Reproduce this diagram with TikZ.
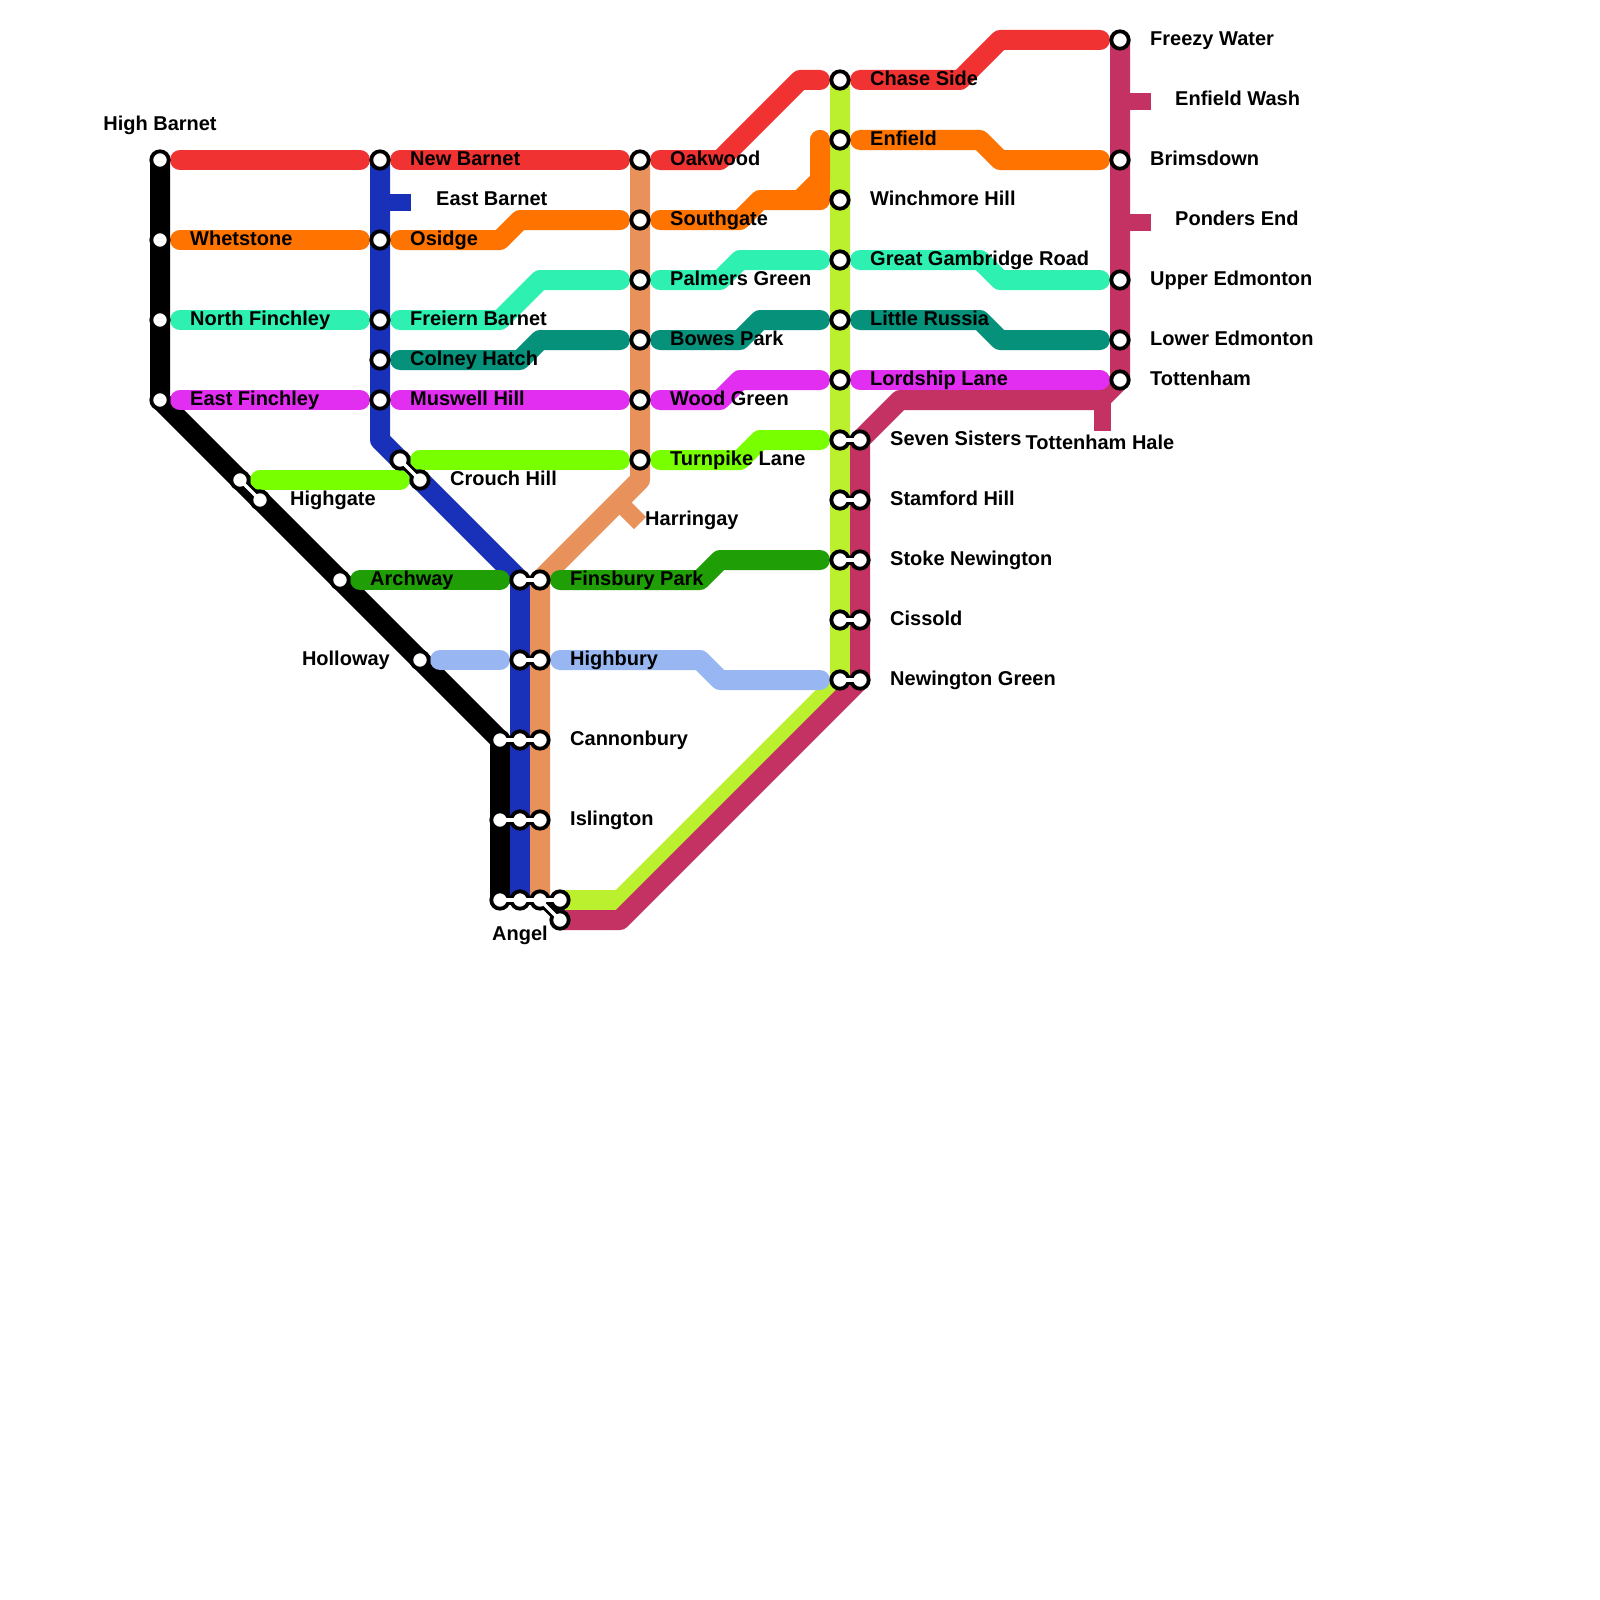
\documentclass[tikz,border=0pt]{standalone}
\usepackage{fontspec}
\setmainfont{Liberation Sans}
\usetikzlibrary{backgrounds}
\definecolor{cRed}{HTML}{F03232}
\definecolor{cOrange}{HTML}{FF7300}
\definecolor{cMint}{HTML}{2EF0B0}
\definecolor{cTeal}{HTML}{05917A}
\definecolor{cMagenta}{HTML}{E22EF0}
\definecolor{cLime}{HTML}{78FF00}
\definecolor{cGreen}{HTML}{1F9E05}
\definecolor{cSky}{HTML}{98B6F2}
\definecolor{cYellow}{HTML}{BBF02E}
\definecolor{cPlum}{HTML}{C43264}
\definecolor{cPeach}{HTML}{E8915A}
\definecolor{cBlue}{HTML}{1930B8}
\tikzset{
  trunk/.style={line width=20pt,line join=round,line cap=butt},
  hline/.style={line width=20pt,line join=round,line cap=round},
  tick/.style={line width=17pt,line cap=butt},
  stn/.style={circle,draw=black,fill=white,line width=3.8pt,minimum size=17.4pt,inner sep=0pt},
  linkb/.style={line width=9pt,draw=black},
  linkw/.style={line width=3.5pt,draw=white},
  lab/.style={font=\fontsize{20}{24}\selectfont\bfseries,text=black,inner sep=0pt,anchor=base west,yshift=-0.8pt},
  labc/.style={lab,anchor=base},
  labe/.style={lab,anchor=base east}
}
\begin{document}
\begin{tikzpicture}[x=1pt,y=-1pt]
\useasboundingbox (0,0) rectangle (1600,1600);
% stations
\foreach \n/\x/\y in {hb/160/160,wh/160/240,nf/160/320,ef/160/400,
  nb/380/160,os/380/240,fb/380/320,ch/380/360,mh/380/400,
  cha/400/460,chb/420/480,hga/240/480,hgb/260/500,ar/340/580,ho/420/660,
  fpa/520/580,fpb/540/580,hia/520/660,hib/540/660,
  caa/500/740,cab/520/740,cac/540/740,isa/500/820,isb/520/820,isc/540/820,
  angA/500/900,angB/520/900,angC/540/900,angD/560/900,angE/560/920,
  oa/640/160,so/640/220,pg/640/280,bp/640/340,wg/640/400,tl/640/460,
  cs/840/80,en/840/140,wi/840/200,gg/840/260,lr/840/320,ll/840/380,
  ssa/840/440,ssb/860/440,sha/840/500,shb/860/500,sna/840/560,snb/860/560,
  cia/840/620,cib/860/620,nga/840/680,ngb/860/680,
  fw/1120/40,br/1120/160,ue/1120/280,le/1120/340,to/1120/380}
  {\node[stn] (\n) at (\x,\y) {};}
% tick ends
\coordinate (ebA) at (380,202); \coordinate (ebB) at (411,202);
\coordinate (ewA) at (1120,102); \coordinate (ewB) at (1151,102);
\coordinate (peA) at (1120,222); \coordinate (peB) at (1151,222);
\coordinate (thA) at (1102,400); \coordinate (thB) at (1102,431);
\coordinate (haA) at (618.5,501.5); \coordinate (haB) at (640,523);
\begin{scope}[on background layer]
\fill[white] (0,0) rectangle (1600,1600);
% trunks
\draw[trunk,black] (hb.center) -- (ef.center) -- (caa.center) -- (angA.center);
\draw[trunk,cBlue] (nb.center) -- (380,440) -- (fpa.center) -- (angB.center);
\draw[trunk,cPeach] (oa.center) -- (640,480) -- (fpb.center) -- (angC.center);
\draw[trunk,cYellow] (cs.center) -- (nga.center) -- (620,900) -- (angD.center);
\draw[trunk,cPlum] (fw.center) -- (to.center) -- (1100,400) -- (900,400) -- (ssb.center) -- (ngb.center) -- (620,920) -- (angE.center);
\draw[tick,cBlue] (ebA) -- (ebB);
\draw[tick,cPlum] (ewA) -- (ewB);
\draw[tick,cPlum] (peA) -- (peB);
\draw[tick,cPlum] (thA) -- (thB);
\draw[tick,cPeach] (haA) -- (haB);
% red
\draw[hline,cRed] ([xshift=20pt]hb.center) -- ([xshift=-20pt]nb.center);
\draw[hline,cRed] ([xshift=20pt]nb.center) -- ([xshift=-20pt]oa.center);
\draw[hline,cRed] ([xshift=20pt]oa.center) -- (720,160) -- (800,80) -- ([xshift=-20pt]cs.center);
\draw[hline,cRed] ([xshift=20pt]cs.center) -- (960,80) -- (1000,40) -- ([xshift=-20pt]fw.center);
% orange
\draw[hline,cOrange] ([xshift=20pt]wh.center) -- ([xshift=-20pt]os.center);
\draw[hline,cOrange] ([xshift=20pt]os.center) -- (500,240) -- (520,220) -- ([xshift=-20pt]so.center);
\draw[hline,cOrange] ([xshift=20pt]so.center) -- (740,220) -- (760,200) -- ([xshift=-20pt]wi.center);
\draw[hline,cOrange] (800,200) -- (820,180) -- ([xshift=-20pt]en.center);
\draw[hline,cOrange] ([xshift=-20pt]wi.center) -- ([xshift=-20pt]en.center);
\draw[hline,cOrange] ([xshift=20pt]en.center) -- (980,140) -- (1000,160) -- ([xshift=-20pt]br.center);
% mint
\draw[hline,cMint] ([xshift=20pt]nf.center) -- ([xshift=-20pt]fb.center);
\draw[hline,cMint] ([xshift=20pt]fb.center) -- (500,320) -- (540,280) -- ([xshift=-20pt]pg.center);
\draw[hline,cMint] ([xshift=20pt]pg.center) -- (720,280) -- (740,260) -- ([xshift=-20pt]gg.center);
\draw[hline,cMint] ([xshift=20pt]gg.center) -- (980,260) -- (1000,280) -- ([xshift=-20pt]ue.center);
% teal
\draw[hline,cTeal] ([xshift=20pt]ch.center) -- (520,360) -- (540,340) -- ([xshift=-20pt]bp.center);
\draw[hline,cTeal] ([xshift=20pt]bp.center) -- (740,340) -- (760,320) -- ([xshift=-20pt]lr.center);
\draw[hline,cTeal] ([xshift=20pt]lr.center) -- (980,320) -- (1000,340) -- ([xshift=-20pt]le.center);
% magenta
\draw[hline,cMagenta] ([xshift=20pt]ef.center) -- ([xshift=-20pt]mh.center);
\draw[hline,cMagenta] ([xshift=20pt]mh.center) -- ([xshift=-20pt]wg.center);
\draw[hline,cMagenta] ([xshift=20pt]wg.center) -- (720,400) -- (740,380) -- ([xshift=-20pt]ll.center);
\draw[hline,cMagenta] ([xshift=20pt]ll.center) -- ([xshift=-20pt]to.center);
% lime
\draw[hline,cLime] ([xshift=20pt]hga.center) -- ([xshift=-20pt]chb.center);
\draw[hline,cLime] ([xshift=20pt]cha.center) -- ([xshift=-20pt]tl.center);
\draw[hline,cLime] ([xshift=20pt]tl.center) -- (740,460) -- (760,440) -- ([xshift=-20pt]ssa.center);
% green
\draw[hline,cGreen] ([xshift=20pt]ar.center) -- ([xshift=-20pt]fpa.center);
\draw[hline,cGreen] ([xshift=20pt]fpb.center) -- (700,580) -- (720,560) -- ([xshift=-20pt]sna.center);
% sky
\draw[hline,cSky] ([xshift=20pt]ho.center) -- ([xshift=-20pt]hia.center);
\draw[hline,cSky] ([xshift=20pt]hib.center) -- (700,660) -- (720,680) -- ([xshift=-20pt]nga.center);
% interchange links, black casing
\foreach \a/\b in {cha/chb,hga/hgb,fpa/fpb,hia/hib,caa/cab,cab/cac,isa/isb,isb/isc,
  angA/angB,angB/angC,angC/angD,angC/angE,ssa/ssb,sha/shb,sna/snb,cia/cib,nga/ngb}
  {\draw[linkb] (\a.center) -- (\b.center);}
\end{scope}
% interchange links, white core
\foreach \a/\b in {cha/chb,hga/hgb,fpa/fpb,hia/hib,caa/cab,cab/cac,isa/isb,isb/isc,
  angA/angB,angB/angC,angC/angD,angC/angE,ssa/ssb,sha/shb,sna/snb,cia/cib,nga/ngb}
  {\draw[linkw] (\a.center) -- (\b.center);}
% labels
\node[labc] (lHB) at (160,130) {High Barnet};
\node[lab] (lWH) at (190,244.5) {Whetstone};
\node[lab] (lNF) at (190,324.5) {North Finchley};
\node[lab] (lEF) at (190,404.5) {East Finchley};
\node[lab] (lNB) at (410,164.5) {New Barnet};
\node[lab] (lEB) at (436,204.5) {East Barnet};
\node[lab] (lOS) at (410,244.5) {Osidge};
\node[lab] (lFB) at (410,324.5) {Freiern Barnet};
\node[lab] (lCH) at (410,364.5) {Colney Hatch};
\node[lab] (lMH) at (410,404.5) {Muswell Hill};
\node[lab] (lCR) at (450,484.5) {Crouch Hill};
\node[lab] (lHG) at (290,504.5) {Highgate};
\node[lab] (lAR) at (370,584.5) {Archway};
\node[labe] (lHO) at (390,664.5) {Holloway};
\node[lab] (lFP) at (570,584.5) {Finsbury Park};
\node[lab] (lHI) at (570,664.5) {Highbury};
\node[lab] (lCA) at (570,744.5) {Cannonbury};
\node[lab] (lIS) at (570,824.5) {Islington};
\node[labc] (lAN) at (520,939.5) {Angel};
\node[lab] (lHA) at (645,524.5) {Harringay};
\node[lab] (lOA) at (670,164.5) {Oakwood};
\node[lab] (lSO) at (670,224.5) {Southgate};
\node[lab] (lPG) at (670,284.5) {Palmers Green};
\node[lab] (lBP) at (670,344.5) {Bowes Park};
\node[lab] (lWG) at (670,404.5) {Wood Green};
\node[lab] (lTL) at (670,464.5) {Turnpike Lane};
\node[lab] (lCS) at (870,84.5) {Chase Side};
\node[lab] (lEN) at (870,144.5) {Enfield};
\node[lab] (lWI) at (870,204.5) {Winchmore Hill};
\node[lab] (lGG) at (870,264.5) {Great Gambridge Road};
\node[lab] (lLR) at (870,324.5) {Little Russia};
\node[lab] (lLL) at (870,384.5) {Lordship Lane};
\node[lab] (lSS) at (890,444.5) {Seven Sisters};
\node[lab] (lSH) at (890,504.5) {Stamford Hill};
\node[lab] (lSN) at (890,564.5) {Stoke Newington};
\node[lab] (lCI) at (890,624.5) {Cissold};
\node[lab] (lNG) at (890,684.5) {Newington Green};
\node[lab] (lFW) at (1150,44.5) {Freezy Water};
\node[lab] (lEW) at (1175,104.5) {Enfield Wash};
\node[lab] (lBR) at (1150,164.5) {Brimsdown};
\node[lab] (lPE) at (1175,224.5) {Ponders End};
\node[lab] (lUE) at (1150,284.5) {Upper Edmonton};
\node[lab] (lLE) at (1150,344.5) {Lower Edmonton};
\node[lab] (lTO) at (1150,384.5) {Tottenham};
\node[labc] (lTH) at (1100,448.2) {Tottenham Hale};
\end{tikzpicture}
\end{document}
